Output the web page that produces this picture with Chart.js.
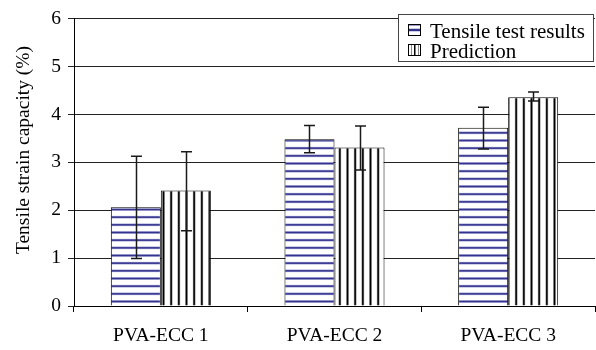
<!DOCTYPE html>
<html><head><meta charset="utf-8">
<script src="https://cdn.jsdelivr.net/npm/chart.js@4"></script>
<style>html,body{margin:0;padding:0;background:#fff}#wrap{width:596px;height:350px;position:relative}</style>
</head><body><div id="wrap"><canvas id="c" width="596" height="350"></canvas></div>
<script>
const categories = ['PVA-ECC 1', 'PVA-ECC 2', 'PVA-ECC 3'];
const seriesNames = ['Tensile test results', 'Prediction'];
const testValues = [2.06, 3.48, 3.72];
const testErrLow = [0.99, 3.20, 3.28];
const testErrHigh = [3.13, 3.77, 4.15];
const predValues = [2.41, 3.31, 4.36];
const predErrLow = [1.57, 2.84, 4.28];
const predErrHigh = [3.22, 3.76, 4.47];
const yTicks = [0, 1, 2, 3, 4, 5, 6];
const yTitle = 'Tensile strain capacity (%)';

const FONT = '"Liberation Serif", "Times New Roman", serif';
const canvas = document.getElementById('c');
const ctx = canvas.getContext('2d');

function hPattern() {
  const t = document.createElement('canvas'); t.width = 8; t.height = 23;
  const g = t.getContext('2d');
  g.fillStyle = '#fff'; g.fillRect(0, 0, 8, 23);
  [0, 7.67, 15.33].forEach(y => {
    g.fillStyle = '#9a9acc'; g.fillRect(0, y + 1.2, 8, 2.6);
    g.fillStyle = '#33338f'; g.fillRect(0, y + 1.8, 8, 1.4);
  });
  return ctx.createPattern(t, 'repeat');
}
function vPattern() {
  const t = document.createElement('canvas'); t.width = 23; t.height = 8;
  const g = t.getContext('2d');
  g.fillStyle = '#fff'; g.fillRect(0, 0, 23, 8);
  [0, 7.67, 15.33].forEach(x => {
    g.fillStyle = '#888'; g.fillRect(x + 1.2, 0, 2.6, 8);
    g.fillStyle = '#000'; g.fillRect(x + 1.8, 0, 1.4, 8);
  });
  return ctx.createPattern(t, 'repeat');
}

const errData = [[testErrLow, testErrHigh], [predErrLow, predErrHigh]];

const errorBars = {
  id: 'errorBars',
  afterDatasetsDraw(chart) {
    const c = chart.ctx, y = chart.scales.y;
    c.save();
    c.strokeStyle = '#1a1a1a'; c.lineWidth = 1.5;
    chart.data.datasets.forEach((ds, i) => {
      const meta = chart.getDatasetMeta(i);
      meta.data.forEach((bar, j) => {
        const x = Math.round(bar.x) + 0.5;
        const lo = y.getPixelForValue(errData[i][0][j]);
        const hi = y.getPixelForValue(errData[i][1][j]);
        c.beginPath();
        c.moveTo(x, lo); c.lineTo(x, hi);
        c.moveTo(x - 5.5, hi); c.lineTo(x + 5.5, hi);
        c.moveTo(x - 5.5, lo); c.lineTo(x + 5.5, lo);
        c.stroke();
      });
    });
    c.restore();
  }
};

const extras = {
  id: 'extras',
  afterDraw(chart) {
    const c = chart.ctx;
    c.save();
    c.fillStyle = '#000';
    c.font = '19.5px ' + FONT;
    c.textAlign = 'center'; c.textBaseline = 'middle';
    c.translate(24, 150); c.rotate(-Math.PI / 2);
    c.fillText(yTitle, 0, 0);
    c.restore();
    c.save();
    c.fillStyle = '#fff';
    c.fillRect(398.5, 14.5, 195, 47);
    c.strokeStyle = '#444'; c.lineWidth = 1;
    c.strokeRect(398.5, 14.5, 195, 47);
    const rows = [38, 58];
    chart.data.datasets.forEach((ds, i) => {
      const top = rows[i] - 14;
      c.fillStyle = '#fff'; c.fillRect(408.5, top + 0.5, 12, 11);
      if (i === 0) {
        c.fillStyle = '#9a9acc'; c.fillRect(409, top + 4.5, 11, 3);
        c.fillStyle = '#33338f'; c.fillRect(409, top + 5, 11, 2);
        c.fillStyle = '#9a9acc'; c.fillRect(409, top + 1, 11, 1);
      } else {
        c.fillStyle = '#000'; c.fillRect(414, top + 1, 1.5, 11);
        c.fillStyle = '#888'; c.fillRect(411, top + 1, 1, 11);
        c.fillRect(418, top + 1, 1, 11);
      }
      c.strokeStyle = '#000'; c.strokeRect(408.5, top + 0.5, 12, 11);
      c.fillStyle = '#000';
      c.font = '21px ' + FONT;
      c.textAlign = 'left'; c.textBaseline = 'alphabetic';
      c.fillText(ds.label, 430, rows[i]);
    });
    c.restore();
  }
};

new Chart(canvas, {
  type: 'bar',
  data: {
    labels: categories,
    datasets: [
      { label: seriesNames[0], data: testValues, backgroundColor: hPattern(), borderColor: '#000', borderWidth: 1 },
      { label: seriesNames[1], data: predValues, backgroundColor: vPattern(), borderColor: '#000', borderWidth: 1 }
    ]
  },
  options: {
    responsive: false,
    devicePixelRatio: 1,
    animation: false,
    categoryPercentage: 0.576,
    barPercentage: 1,
    layout: { padding: { top: 15, right: 1, left: 0, bottom: 0 } },
    plugins: { legend: { display: false }, tooltip: { enabled: false } },
    scales: {
      x: {
        offset: true,
        grid: { offset: true, drawOnChartArea: false, drawTicks: true, tickLength: 6, color: '#000' },
        border: { color: '#000' },
        ticks: { color: '#000', font: { family: FONT, size: 19.5 }, padding: 12, maxRotation: 0 },
        afterFit(s) { s.height = 44; }
      },
      y: {
        min: 0, max: 6,
        afterBuildTicks(s) { s.ticks = yTicks.map(v => ({ value: v })); },
        grid: { color: '#222', tickLength: 6 },
        border: { color: '#000' },
        ticks: { color: '#000', font: { family: FONT, size: 19.5 }, padding: 7 },
        afterFit(s) { s.width = 74; }
      }
    }
  },
  plugins: [errorBars, extras]
});
</script></body></html>
